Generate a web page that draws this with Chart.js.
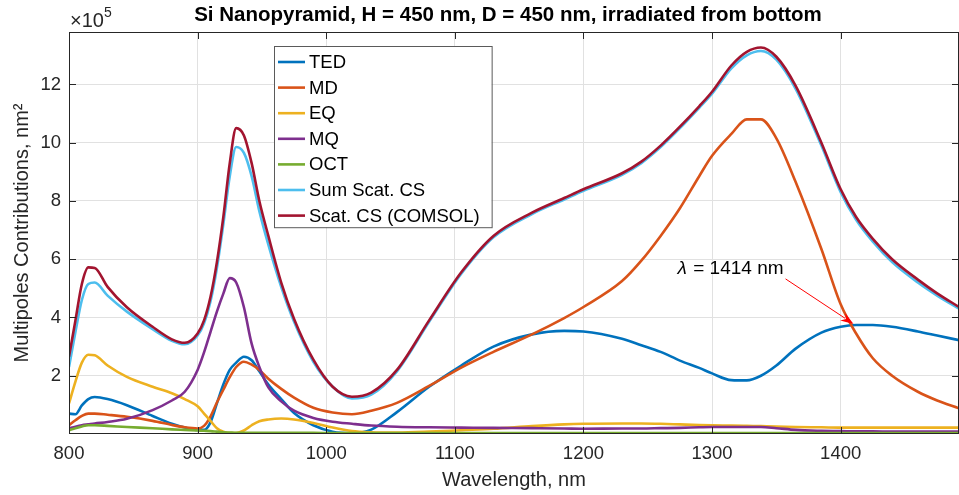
<!DOCTYPE html>
<html>
<head>
<meta charset="utf-8">
<script src="https://cdn.jsdelivr.net/npm/chart.js@4.4.1/dist/chart.umd.min.js"></script>
<style>
  html, body { margin: 0; padding: 0; background: #fff; }
  #wrap { width: 959px; height: 495px; }
</style>
</head>
<body>
<div id="wrap"><canvas id="chart" width="959" height="495"></canvas></div>
<script>
// Wavelengths (nm) and multipole contributions (x 10^5 nm^2).
const wavelengths = [800, 805, 810, 815, 820, 830, 845, 865, 880, 890,
    900, 905, 910, 915, 920, 925, 930, 936, 942, 948,
    955, 965, 975, 990, 1005, 1020, 1035, 1055, 1080, 1105,
    1130, 1160, 1185, 1200, 1230, 1245, 1260, 1275, 1290, 1300,
    1315, 1327, 1338, 1350, 1365, 1385, 1400, 1412, 1425, 1440,
    1460, 1475, 1492];

const ted = [0.70, 0.68, 0.98, 1.20, 1.27, 1.20, 0.99, 0.62, 0.35, 0.22,
    0.14, 0.14, 0.40, 1.05, 1.70, 2.20, 2.45, 2.65, 2.53, 2.15,
    1.70, 1.20, 0.72, 0.30, 0.08, 0.03, 0.15, 0.75, 1.62, 2.35,
    3.00, 3.42, 3.54, 3.52, 3.27, 3.05, 2.82, 2.52, 2.27, 2.08,
    1.85, 1.84, 2.00, 2.35, 2.93, 3.48, 3.68, 3.74, 3.74, 3.68,
    3.52, 3.38, 3.22];

const md = [0.30, 0.47, 0.62, 0.70, 0.70, 0.66, 0.59, 0.45, 0.31, 0.23,
    0.19, 0.28, 0.60, 1.08, 1.52, 1.95, 2.30, 2.48, 2.38, 2.20,
    1.90, 1.55, 1.25, 0.90, 0.74, 0.68, 0.80, 1.07, 1.65, 2.28,
    2.82, 3.42, 3.98, 4.36, 5.25, 5.95, 6.80, 7.75, 8.85, 9.55,
    10.30, 10.80, 10.80, 10.15, 8.65, 6.35, 4.45, 3.45, 2.60, 2.00,
    1.45, 1.15, 0.88];

const eq = [1.05, 1.80, 2.45, 2.72, 2.70, 2.35, 1.96, 1.62, 1.40, 1.20,
    0.95, 0.70, 0.45, 0.20, 0.08, 0.03, 0.03, 0.12, 0.30, 0.44,
    0.50, 0.53, 0.50, 0.38, 0.22, 0.10, 0.06, 0.05, 0.08, 0.13,
    0.18, 0.27, 0.33, 0.35, 0.36, 0.36, 0.35, 0.33, 0.31, 0.30,
    0.29, 0.28, 0.27, 0.26, 0.24, 0.23, 0.22, 0.22, 0.22, 0.22,
    0.22, 0.22, 0.22];

const mq = [0.19, 0.25, 0.30, 0.33, 0.36, 0.41, 0.52, 0.82, 1.15, 1.45,
    2.20, 2.80, 3.50, 4.20, 4.82, 5.35, 5.20, 4.35, 3.10, 2.30,
    1.60, 1.12, 0.80, 0.55, 0.42, 0.35, 0.29, 0.25, 0.23, 0.22,
    0.21, 0.20, 0.19, 0.18, 0.19, 0.19, 0.20, 0.21, 0.23, 0.24,
    0.24, 0.24, 0.24, 0.20, 0.14, 0.11, 0.10, 0.09, 0.09, 0.08,
    0.08, 0.08, 0.08];

const oct = [0.13, 0.20, 0.26, 0.30, 0.30, 0.28, 0.24, 0.20, 0.16, 0.14,
    0.12, 0.11, 0.10, 0.08, 0.06, 0.05, 0.04, 0.04, 0.04, 0.04,
    0.04, 0.04, 0.04, 0.04, 0.03, 0.03, 0.03, 0.03, 0.03, 0.03,
    0.03, 0.03, 0.03, 0.03, 0.03, 0.03, 0.03, 0.03, 0.03, 0.03,
    0.03, 0.03, 0.03, 0.03, 0.03, 0.03, 0.03, 0.03, 0.03, 0.03,
    0.03, 0.03, 0.03];

const sumScat = [2.30, 3.50, 4.60, 5.15, 5.20, 4.75, 4.20, 3.60, 3.20, 3.08,
    3.38, 3.80, 4.55, 5.70, 7.20, 8.85, 9.85, 9.65, 8.85, 7.65,
    6.50, 5.05, 3.85, 2.48, 1.62, 1.22, 1.35, 2.15, 3.85, 5.50,
    6.75, 7.55, 8.05, 8.35, 8.90, 9.30, 9.85, 10.50, 11.20, 11.68,
    12.55, 13.00, 13.15, 12.85, 11.85, 9.90, 8.30, 7.35, 6.60, 5.90,
    5.20, 4.75, 4.30];

const comsol = [2.65, 3.90, 5.15, 5.72, 5.70, 5.05, 4.35, 3.68, 3.25, 3.13,
    3.45, 3.90, 4.70, 5.90, 7.45, 9.30, 10.50, 10.25, 9.30, 8.00,
    6.80, 5.20, 3.95, 2.55, 1.62, 1.28, 1.42, 2.20, 3.90, 5.55,
    6.80, 7.60, 8.10, 8.40, 8.95, 9.35, 9.90, 10.55, 11.25, 11.75,
    12.65, 13.12, 13.27, 12.95, 11.95, 10.00, 8.40, 7.45, 6.70, 6.00,
    5.30, 4.83, 4.36];

const seriesNames = ['TED', 'MD', 'EQ', 'MQ', 'OCT', 'Sum Scat. CS', 'Scat. CS (COMSOL)'];
const seriesValues = [ted, md, eq, mq, oct, sumScat, comsol];
const xTickValues = [800, 900, 1000, 1100, 1200, 1300, 1400];
const yTickValues = [2, 4, 6, 8, 10, 12];

// MATLAB default line colours
const colors = ['#0072BD', '#D95319', '#EDB120', '#7E2F8E', '#77AC30', '#4DBEEE', '#A2142F'];
const axisColor = '#262626';
const gridColor = '#e1e1e1';
const fontFamily = "'Liberation Sans', Arial, Helvetica, sans-serif";
const titleText = 'Si Nanopyramid, H = 450 nm, D = 450 nm, irradiated from bottom';

// where the TED and MD curves cross
const markLambda = 1410;
const markValue = 3.78;
const markLabel = ' = 1414 nm';

const datasets = seriesNames.map((name, i) => ({
    label: name,
    data: wavelengths.map((w, j) => ({ x: w, y: seriesValues[i][j] })),
    borderColor: colors[i],
    backgroundColor: colors[i],
    borderWidth: 2.6,
    pointRadius: 0,
    cubicInterpolationMode: 'monotone',
    fill: false,
    order: seriesNames.length - i   // later series drawn on top, like MATLAB
}));

const matlabDecor = {
    id: 'matlabDecor',
    afterDraw(chart) {
        const { ctx, chartArea: a, scales } = chart;
        ctx.save();

        // title, centred over the axes
        ctx.fillStyle = '#000';
        ctx.textAlign = 'center';
        ctx.textBaseline = 'middle';
        ctx.font = 'bold 20.5px ' + fontFamily;
        ctx.fillText(titleText, (a.left + a.right) / 2 - 6, 15);

        // axes box and inward ticks
        ctx.strokeStyle = axisColor;
        ctx.lineWidth = 1;
        ctx.strokeRect(a.left + 0.5, a.top + 0.5, a.right - a.left - 1, a.bottom - a.top - 1);
        ctx.beginPath();
        xTickValues.forEach(v => {
            const x = Math.round(scales.x.getPixelForValue(v)) + 0.5;
            ctx.moveTo(x, a.bottom); ctx.lineTo(x, a.bottom - 7);
            ctx.moveTo(x, a.top); ctx.lineTo(x, a.top + 7);
        });
        yTickValues.forEach(v => {
            const y = Math.round(scales.y.getPixelForValue(v)) + 0.5;
            ctx.moveTo(a.left, y); ctx.lineTo(a.left + 7, y);
            ctx.moveTo(a.right, y); ctx.lineTo(a.right - 7, y);
        });
        ctx.stroke();

        // exponent label
        ctx.fillStyle = axisColor;
        ctx.textAlign = 'left';
        ctx.textBaseline = 'alphabetic';
        ctx.font = '20px ' + fontFamily;
        ctx.fillText('\u00d710', a.left + 1, a.top - 5);
        const w10 = ctx.measureText('\u00d710').width;
        ctx.font = '14px ' + fontFamily;
        ctx.fillText('5', a.left + 1 + w10, a.top - 15);

        // annotation arrow
        const tipX = scales.x.getPixelForValue(markLambda);
        const tipY = scales.y.getPixelForValue(markValue);
        const tailX = tipX - 68;
        const tailY = tipY - 45;
        const ang = Math.atan2(tipY - tailY, tipX - tailX);
        ctx.strokeStyle = '#ff0000';
        ctx.fillStyle = '#ff0000';
        ctx.lineWidth = 1;
        ctx.beginPath();
        ctx.moveTo(tailX, tailY);
        ctx.lineTo(tipX - 10 * Math.cos(ang), tipY - 10 * Math.sin(ang));
        ctx.stroke();
        ctx.beginPath();
        ctx.moveTo(tipX, tipY);
        ctx.lineTo(tipX - 13 * Math.cos(ang) + 4.5 * Math.sin(ang), tipY - 13 * Math.sin(ang) - 4.5 * Math.cos(ang));
        ctx.lineTo(tipX - 9 * Math.cos(ang), tipY - 9 * Math.sin(ang));
        ctx.lineTo(tipX - 13 * Math.cos(ang) - 4.5 * Math.sin(ang), tipY - 13 * Math.sin(ang) + 4.5 * Math.cos(ang));
        ctx.closePath();
        ctx.fill();

        // annotation text
        ctx.fillStyle = '#000';
        ctx.textBaseline = 'middle';
        ctx.font = '19px ' + fontFamily;
        const restW = ctx.measureText(markLabel).width;
        ctx.font = 'italic 19px ' + fontFamily;
        const lamW = ctx.measureText('\u03bb').width;
        const textRight = tailX - 2;
        const textY = tailY - 10;
        ctx.fillText('\u03bb', textRight - restW - lamW - 1, textY);
        ctx.font = '19px ' + fontFamily;
        ctx.fillText(markLabel, textRight - restW, textY);

        // legend box
        ctx.font = '18.5px ' + fontFamily;
        const lx = a.left + 205;
        const ly = a.top + 14;
        const rowH = 25.6;
        const textW = Math.max(...seriesNames.map(n => ctx.measureText(n).width));
        const boxW = 35 + textW + 12;
        const boxH = rowH * seriesNames.length + 2;
        ctx.fillStyle = '#fff';
        ctx.fillRect(lx, ly, boxW, boxH);
        ctx.strokeStyle = '#5a5a5a';
        ctx.lineWidth = 1;
        ctx.strokeRect(lx + 0.5, ly + 0.5, boxW, boxH);
        seriesNames.forEach((name, i) => {
            const cy = ly + 16 + i * rowH;
            ctx.strokeStyle = colors[i];
            ctx.lineWidth = 2.6;
            ctx.beginPath();
            ctx.moveTo(lx + 4, cy);
            ctx.lineTo(lx + 31, cy);
            ctx.stroke();
            ctx.fillStyle = '#000';
            ctx.textBaseline = 'middle';
            ctx.fillText(name, lx + 35, cy + 1);
        });
        ctx.restore();
    }
};

new Chart(document.getElementById('chart'), {
    type: 'line',
    data: { datasets },
    options: {
        responsive: false,
        devicePixelRatio: 1,
        animation: false,
        layout: { padding: { top: 32, left: 0, right: 0, bottom: 0 } },
        plugins: {
            legend: { display: false },
            tooltip: { enabled: false },
            title: { display: false }
        },
        scales: {
            x: {
                type: 'linear',
                min: 800,
                max: 1492,
                afterBuildTicks: s => { s.ticks = xTickValues.map(v => ({ value: v })); },
                afterFit: s => { s.height = 61; },
                grid: { color: gridColor, drawTicks: false },
                border: { display: false },
                ticks: {
                    color: axisColor,
                    padding: 9,
                    maxRotation: 0,
                    callback: v => String(v),
                    font: { family: fontFamily, size: 18.5 }
                },
                title: {
                    display: true,
                    text: 'Wavelength, nm',
                    color: axisColor,
                    font: { family: fontFamily, size: 20, lineHeight: 1.2 },
                    padding: { top: 0, bottom: 3 }
                }
            },
            y: {
                type: 'linear',
                min: 0,
                max: 13.8,
                afterBuildTicks: s => { s.ticks = yTickValues.map(v => ({ value: v })); },
                afterFit: s => { s.width = 69; },
                grid: { color: gridColor, drawTicks: false },
                border: { display: false },
                ticks: {
                    color: axisColor,
                    padding: 8,
                    callback: v => String(v),
                    font: { family: fontFamily, size: 18.5 }
                },
                title: {
                    display: true,
                    text: 'Multipoles Contributions, nm\u00b2',
                    color: axisColor,
                    font: { family: fontFamily, size: 20, lineHeight: 1.2 },
                    padding: { top: 10, bottom: 0 }
                }
            }
        }
    },
    plugins: [matlabDecor]
});
</script>
</body>
</html>
